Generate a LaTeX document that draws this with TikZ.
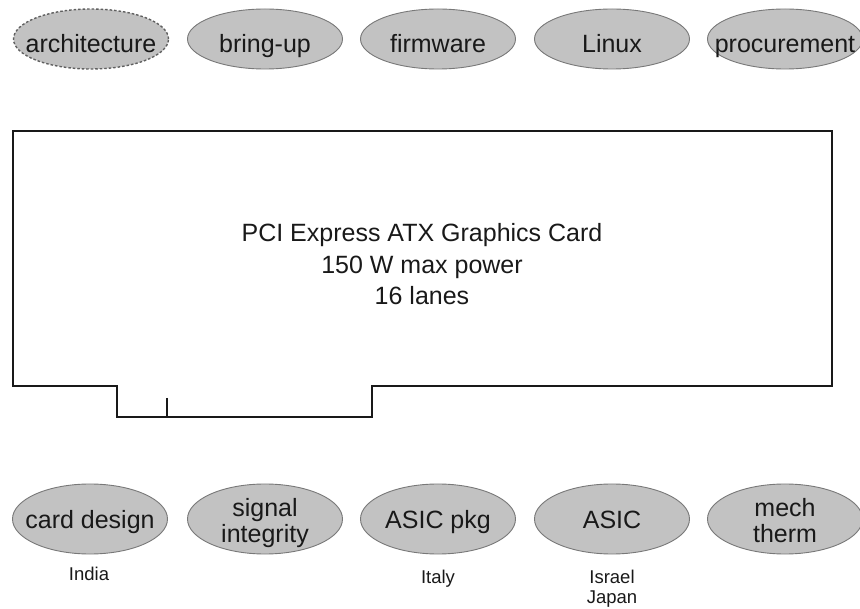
\documentclass[tikz,border=0pt]{standalone}
\usepackage{fontspec}
\setmainfont{Liberation Sans}
\usetikzlibrary{shapes.geometric}
\definecolor{bubblefill}{RGB}{194,194,194}
\definecolor{bubbleline}{RGB}{120,120,120}
\definecolor{dashline}{RGB}{95,95,95}
\tikzset{
  bubble/.style={ellipse, draw=bubbleline, fill=bubblefill, line width=0.9pt,
    minimum width=155pt, minimum height=60pt, inner sep=0pt},
  lowbubble/.style={bubble, minimum height=70pt},
  openrole/.style={draw=dashline, line width=1.4pt, dash pattern=on 2.5pt off 2pt},
  bigtxt/.style={font=\fontsize{25}{27}\selectfont, inner sep=0pt, anchor=base, text=black!90},
  sitetxt/.style={font=\fontsize{18.5}{20}\selectfont, inner sep=0pt, anchor=base, text=black!90},
  cardline/.style={line width=2pt, line join=miter, draw=black!90}
}
\begin{document}
\begin{tikzpicture}[x=1pt, y=-1pt]
\useasboundingbox (0,0) rectangle (860,609);

% team bubbles along the top
\node[bubble, openrole] (arch) at (91,39) {};
\node[bubble] (bring) at (265,39) {};
\node[bubble] (fw) at (438,39) {};
\node[bubble] (linux) at (612,39) {};
\node[bubble] (proc) at (785,39) {};
\node[bigtxt] (archt) at (91,53) {architecture};
\node[bigtxt] (bringt) at (265,53) {bring-up};
\node[bigtxt] (fwt) at (438,53) {firmware};
\node[bigtxt] (linuxt) at (612,53) {Linux};
\node[bigtxt] (proct) at (785,53) {procurement};

% add-in card outline with its edge-connector tab and key notch
\draw[cardline] (13,131) -- (832,131) -- (832,386) -- (372,386) -- (372,417)
  -- (117,417) -- (117,386) -- (13,386) -- cycle;
\draw[cardline] (167,398) -- (167,417);
\node[bigtxt] (c1) at (422,242) {PCI Express ATX Graphics Card};
\node[bigtxt] (c2) at (422,274) {150 W max power};
\node[bigtxt] (c3) at (422,305) {16 lanes};

% team bubbles along the bottom
\node[lowbubble] (card) at (90,519) {};
\node[lowbubble] (si) at (265,519) {};
\node[lowbubble] (pkg) at (438,519) {};
\node[lowbubble] (asic) at (612,519) {};
\node[lowbubble] (mech) at (785,519) {};
\node[bigtxt] (cardt) at (90,529) {card design};
\node[bigtxt] (si1) at (265,516) {signal};
\node[bigtxt] (si2) at (265,543) {integrity};
\node[bigtxt] (pkgt) at (438,529) {ASIC pkg};
\node[bigtxt] (asict) at (612,529) {ASIC};
\node[bigtxt] (mech1) at (785,516) {mech};
\node[bigtxt] (mech2) at (785,543) {therm};

% locations
\node[sitetxt] (india) at (89,580) {India};
\node[sitetxt] (italy) at (438,583) {Italy};
\node[sitetxt] (israel) at (612,583) {Israel};
\node[sitetxt] (japan) at (612,603) {Japan};
\end{tikzpicture}
\end{document}
